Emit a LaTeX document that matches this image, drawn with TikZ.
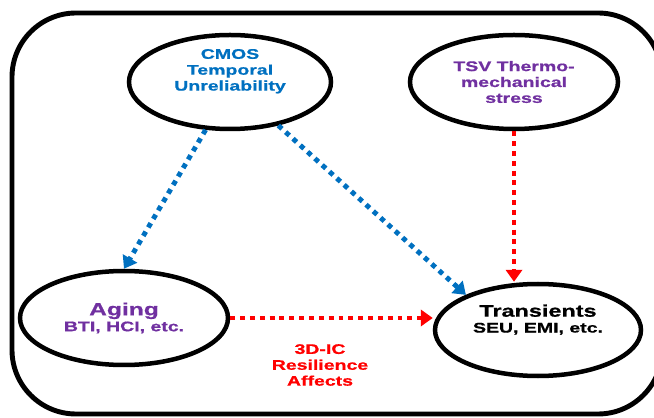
\documentclass[tikz,border=0pt]{standalone}
\usepackage{fontspec}
\setmainfont{Liberation Sans}[FakeStretch=1.4, BoldFeatures={FakeBold=0.8}]
\usetikzlibrary{shapes.geometric,arrows.meta}
\definecolor{cmosblue}{HTML}{0070C0}
\definecolor{agepurple}{HTML}{7030A0}
\definecolor{effectred}{HTML}{FF0000}
\tikzset{
  blob/.style={ellipse, draw, line width=3.2pt, minimum width=5.1cm, minimum height=2.35cm,
    inner sep=0pt, align=center, font=\bfseries\fontsize{9.9}{11.3}\selectfont},
  dotline/.style={line width=3.5pt, dash pattern=on 3.5pt off 3.5pt,
    -{Triangle[length=8.5pt,width=11.5pt]}},
}
\begin{document}
\begin{tikzpicture}
	\useasboundingbox (0,0) rectangle (16.35,10.425);
	\clip (0,0) rectangle (16.35,10.425);
	\draw [line width=3.5pt, rounded corners=1.6cm] (0.3,0.075) rectangle (16.55,10.1);
	\node [blob, text=cmosblue, minimum width=5.05cm] (cmos) at (5.75,8.375) {CMOS\\Temporal\\Unreliability\\[6pt]};
	\node [blob, text=agepurple, minimum width=5.2cm] (tsv) at (12.85,8.375) {TSV Thermo-\\mechanical\\stress};
	\node [blob, text=agepurple, minimum width=5.2cm] (aging) at (3.1,2.475) {{\fontsize{12.5}{14}\selectfont Aging}\\BTI, HCI, etc.};
	\node [blob, minimum width=5.15cm, minimum height=2.3cm] (trans) at (13.45,2.175) {{\fontsize{11.9}{14}\selectfont Transients}\\SEU, EMI, etc.\\[5pt]};
	\node [text=effectred, align=center, font=\bfseries\fontsize{9.9}{11.3}\selectfont] (resil) at (8,1.3) {3D-IC\\Resilience\\Affects};
	\draw [dotline, cmosblue] (cmos.243) -- (aging.north);
	\draw [dotline, cmosblue] (cmos.318) -- (trans.154);
	\draw [dotline, effectred] (tsv.south) -- (tsv.south |- trans.north);
	\draw [dotline, effectred] (aging.east) -- (aging.east -| trans.west);
\end{tikzpicture}
\end{document}
